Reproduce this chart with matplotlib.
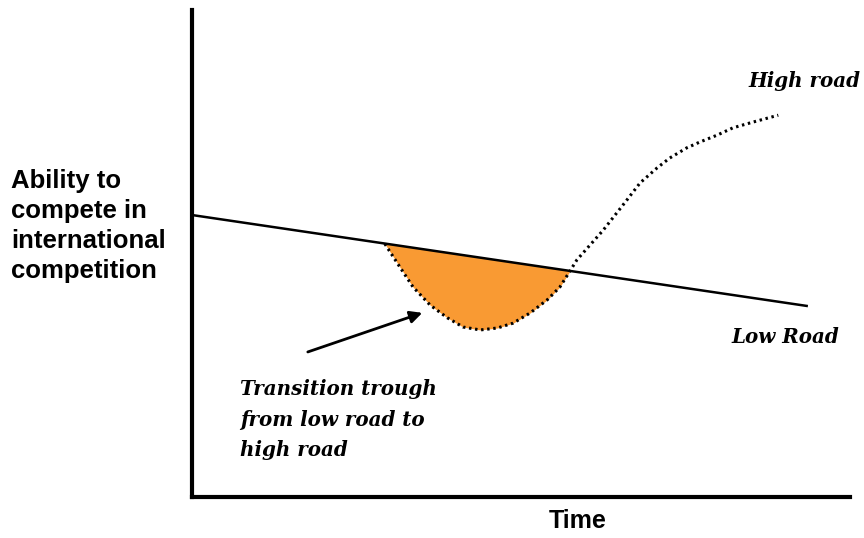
#!/usr/bin/env python3

import matplotlib.pyplot as plt
import numpy as np

# conceptual scale: time 0-100, ability 0-100
LOW_ROAD_T = [0.0, 93.6]
LOW_ROAD_A = [57.9, 39.2]

HIGH_ROAD_T = [29.3, 31.6, 33.6, 36.2, 38.8, 41.2, 43.8, 46.4, 48.8, 51.4,
               54.0, 55.9, 57.4, 58.5, 62.5, 66.1, 68.1, 70.7, 72.6, 75.2,
               77.2, 79.8, 82.2, 85.3, 89.1]
HIGH_ROAD_A = [52.0, 47.2, 43.1, 39.4, 36.8, 34.9, 34.3, 34.7, 35.7, 37.8,
               40.5, 43.1, 46.3, 48.7, 54.8, 61.0, 64.5, 67.6, 69.6, 71.7,
               72.9, 74.3, 75.8, 77.0, 78.4]
TROUGH_END = 13  # points of the high road that lie under the low road

ARROW_FROM = (17.2, 29.6)
ARROW_TO = (35.4, 38.0)

ORANGE = "#F99A33"


def fig_xy(px, py):
    # pixel position in the 864x538 canvas -> figure fraction
    return px / 864, 1 - py / 538


def main() -> None:
    fig = plt.figure(figsize=(8.64, 5.38), dpi=100)
    ax = fig.add_axes([192 / 864, 41 / 538, 658 / 864, 487 / 538])
    ax.set_xlim(0, 100)
    ax.set_ylim(0, 100)
    for side in ("top", "right"):
        ax.spines[side].set_visible(False)
    for side in ("left", "bottom"):
        ax.spines[side].set_linewidth(3)
    ax.set_xticks([])
    ax.set_yticks([])

    t = np.array(HIGH_ROAD_T)
    a = np.array(HIGH_ROAD_A)
    low = np.interp(t[:TROUGH_END], LOW_ROAD_T, LOW_ROAD_A)
    ax.fill_between(t[:TROUGH_END], a[:TROUGH_END], low, color=ORANGE, lw=0)

    ax.plot(LOW_ROAD_T, LOW_ROAD_A, color="black", lw=1.8, solid_capstyle="butt")
    ax.plot(t, a, color="black", lw=2.2, linestyle=(0, (0.8, 1.2)))

    ax.annotate("", xy=ARROW_TO, xytext=ARROW_FROM,
                arrowprops=dict(arrowstyle="-|>", color="black", lw=2,
                                mutation_scale=18))

    # multi-line texts are anchored on the baseline of their last line
    serif = dict(family="DejaVu Serif", style="italic", weight="bold",
                 fontsize=14.3, va="baseline", ha="left")
    fig.text(*fig_xy(748, 87), "High road", **serif)
    fig.text(*fig_xy(731, 343), "Low Road", **serif)
    fig.text(*fig_xy(240, 456),
             "Transition trough\nfrom low road to\nhigh road",
             linespacing=1.65, **serif)

    fig.text(*fig_xy(11, 278),
             "Ability to\ncompete in\ninternational\ncompetition",
             va="baseline", ha="left", family="Liberation Sans", weight="bold",
             fontsize=18.5, linespacing=1.32)
    fig.text(*fig_xy(578, 528), "Time", va="baseline", ha="center",
             family="Liberation Sans", weight="bold", fontsize=18)

    fig.savefig("out.png", dpi=100)


if __name__ == "__main__":
    main()
